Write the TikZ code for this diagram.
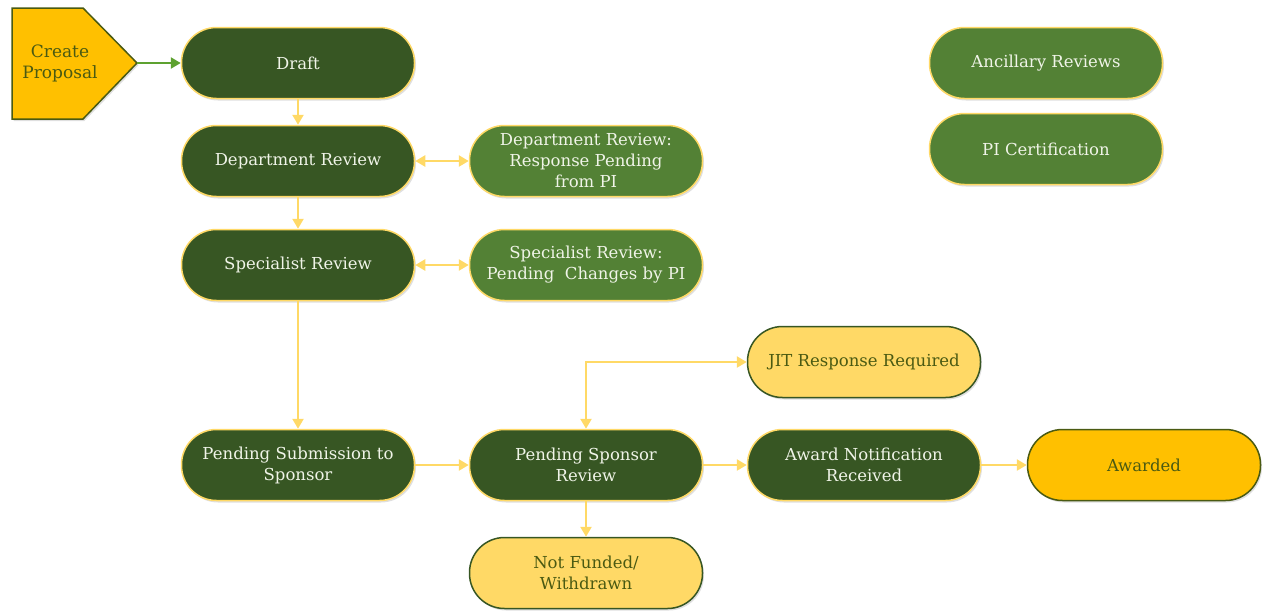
\documentclass[tikz,border=0pt]{standalone}
\usepackage{fontspec}
\setmainfont{DejaVu Serif}
\usetikzlibrary{arrows.meta,shapes.geometric,shadows,calc}
\definecolor{dkgreen}{HTML}{375623}
\definecolor{mdgreen}{HTML}{538135}
\definecolor{gold}{HTML}{FFC000}
\definecolor{ltgold}{HTML}{FFD966}
\definecolor{edgegold}{HTML}{FFD966}
\definecolor{olive}{HTML}{4A5A12}
\definecolor{arrowgreen}{HTML}{5DA130}
\definecolor{lighttext}{HTML}{F0F4E8}
\tikzset{
  pill/.style={rounded corners=35pt, minimum width=233pt, minimum height=71pt,
    align=center, inner sep=2pt, font=\fontsize{16.5}{21}\selectfont,
    drop shadow={shadow xshift=1.5pt, shadow yshift=-2pt, opacity=0.25}},
  darkpill/.style={pill, fill=dkgreen, draw=edgegold, line width=1.5pt, text=lighttext},
  midpill/.style={pill, fill=mdgreen, draw=edgegold, line width=1.5pt, text=lighttext},
  goldpill/.style={pill, fill=ltgold, draw=dkgreen, line width=1.5pt, text=olive},
  strongpill/.style={pill, fill=gold, draw=olive, line width=1.5pt, text=olive},
  tip/.style={-{Triangle[length=10pt,width=11pt]}},
  flow/.style={draw=ltgold, line width=2.5pt, tip},
  bothflow/.style={draw=ltgold, line width=2.5pt, {Triangle[length=10pt,width=11pt]}-{Triangle[length=10pt,width=11pt]}},
}
\begin{document}
\begin{tikzpicture}[x=1pt,y=-1pt]
\useasboundingbox (0,0) rectangle (1267,611);
% Create proposal pentagon
\draw[fill=gold, draw=olive, line width=1.5pt, drop shadow={shadow xshift=1.5pt, shadow yshift=-2pt, opacity=0.25}]
  (12,8) -- (83,8) -- (137,63) -- (83,119) -- (12,119) -- cycle;
\node[text=olive, align=center, font=\fontsize{17}{21}\selectfont] (create) at (60,63) {Create\\Proposal};
\coordinate (createtip) at (137,63);

\node[darkpill] (draft) at (298,63) {Draft};
\node[darkpill] (dept) at (298,161) {Department Review};
\node[darkpill] (spec) at (298,265) {Specialist Review};
\node[darkpill] (pendsub) at (298,465) {Pending Submission to\\Sponsor};
\node[midpill] (deptresp) at (586,161) {Department Review:\\Response Pending\\from PI};
\node[midpill] (specpend) at (586,265) {Specialist Review:\\Pending\ \ Changes by PI};
\node[midpill] (ancil) at (1046,63) {Ancillary Reviews};
\node[midpill] (picert) at (1046,149) {PI Certification};
\node[goldpill] (jit) at (864,362) {JIT Response Required};
\node[darkpill] (pendspon) at (586,465) {Pending Sponsor\\Review};
\node[darkpill] (award) at (864,465) {Award Notification\\Received};
\node[strongpill] (awarded) at (1144,465) {Awarded};
\node[goldpill] (notfund) at (586,573) {Not Funded/\\Withdrawn};

\draw[draw=arrowgreen, line width=2.5pt, tip] (createtip) -- (draft.west);
\draw[flow] (draft) -- (dept);
\draw[bothflow] (dept) -- (deptresp);
\draw[flow] (dept) -- (spec);
\draw[bothflow] (spec) -- (specpend);
\draw[flow] (spec) -- (pendsub);
\draw[flow] (pendsub) -- (pendspon);
\draw[flow] (pendspon) -- (award);
\draw[flow] (award) -- (awarded);
\draw[flow] (pendspon) -- (notfund);
\draw[bothflow] (pendspon.north) |- (jit.west);
\end{tikzpicture}
\end{document}
